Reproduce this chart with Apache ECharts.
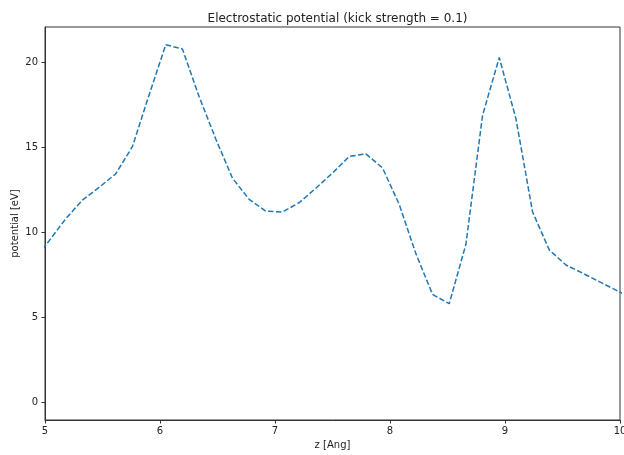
<!DOCTYPE html>
<html>
<head>
<meta charset="utf-8">
<script src="https://cdn.jsdelivr.net/npm/echarts@6/dist/echarts.min.js"></script>
<style>html,body{margin:0;padding:0;background:#fff}#c{width:624px;height:455px}</style>
</head>
<body>
<div id="c"></div>
<script>
var zValues = [4.89, 5.035, 5.18, 5.325, 5.47, 5.615, 5.76, 5.905, 6.05, 6.195, 6.34, 6.485, 6.63, 6.775, 6.92, 7.065, 7.21, 7.355, 7.50, 7.645, 7.79, 7.935, 8.08, 8.225, 8.37, 8.515, 8.66, 8.805, 8.95, 9.095, 9.24, 9.385, 9.53, 9.675, 9.82, 9.965, 10.11];
var potential = [8.3, 9.5, 10.8, 11.9, 12.65, 13.45, 15.05, 18.1, 21.06, 20.8, 18.0, 15.5, 13.2, 11.95, 11.25, 11.2, 11.75, 12.6, 13.5, 14.47, 14.63, 13.8, 11.65, 8.75, 6.35, 5.8, 9.3, 16.9, 20.3, 16.7, 11.2, 8.97, 8.08, 7.6, 7.1, 6.6, 6.1];
var yTicks = [0, 5, 10, 15, 20];
var xTicks = [5, 6, 7, 8, 9, 10];

var data = zValues.map(function (z, i) { return [z, potential[i]]; });
var font = 'DejaVu Sans';
var chart = echarts.init(document.getElementById('c'), null, {renderer: 'canvas'});
chart.setOption({
  animation: false,
  backgroundColor: '#fff',
  title: {
    text: 'Electrostatic potential (kick strength = 0.1)',
    left: 332.5, top: 8, textAlign: 'center',
    textStyle: {fontFamily: font, fontSize: 12, fontWeight: 'normal', color: '#222'}
  },
  grid: {left: 45, right: 4, top: 27, bottom: 35, containLabel: false, outerBoundsMode: 'none',
         show: true, borderColor: '#333', borderWidth: 1, backgroundColor: 'transparent'},
  xAxis: {
    type: 'value', min: 5, max: 10, interval: 1,
    name: 'z [Ang]', nameLocation: 'middle', nameGap: 12,
    nameTextStyle: {fontFamily: font, fontSize: 10, color: '#222'},
    axisLine: {show: true, onZero: false, lineStyle: {color: '#333', width: 1}},
    axisTick: {show: true, length: 3.5, lineStyle: {color: '#333'}, customValues: xTicks},
    axisLabel: {fontFamily: font, fontSize: 10, color: '#222', margin: 6, customValues: xTicks},
    splitLine: {show: false}
  },
  yAxis: {
    type: 'value', min: -1.05, max: 22.1,
    name: 'potential [eV]', nameLocation: 'middle', nameGap: 25, nameRotate: 90, nameMoveOverlap: false,
    nameTextStyle: {fontFamily: font, fontSize: 10, color: '#222'},
    axisLine: {show: true, onZero: false, lineStyle: {color: '#333', width: 1}},
    axisTick: {show: true, length: 3.5, lineStyle: {color: '#333'}, customValues: yTicks},
    axisLabel: {fontFamily: font, fontSize: 10, color: '#222', margin: 7, customValues: yTicks},
    splitLine: {show: false}
  },
  series: [{
    type: 'line', data: data, showSymbol: false, clip: true,
    lineStyle: {color: '#1f77b4', width: 1.5, type: [5.5, 2.4]}
  }]
});
</script>
</body>
</html>
